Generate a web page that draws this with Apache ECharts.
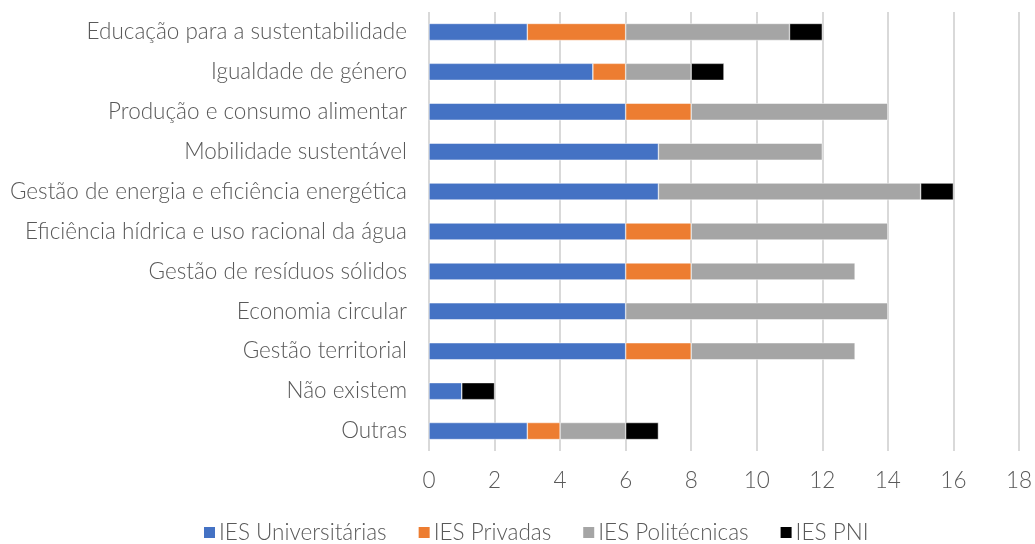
<!DOCTYPE html>
<html>
<head>
<meta charset="utf-8">
<script src="https://cdn.jsdelivr.net/npm/echarts@6/dist/echarts.min.js"></script>
<style>
  html, body { margin: 0; padding: 0; background: #fff; }
  #chart { width: 1035px; height: 544px; }
</style>
</head>
<body>
<div id="chart"></div>
<script>
// Thematic areas, listed top to bottom
const categories = [
  'Educação para a sustentabilidade',
  'Igualdade de género',
  'Produção e consumo alimentar',
  'Mobilidade sustentável',
  'Gestão de energia e eficiência energética',
  'Eficiência hídrica e uso racional da água',
  'Gestão de resíduos sólidos',
  'Economia circular',
  'Gestão territorial',
  'Não existem',
  'Outras'
];

// Number of institutions per type, same order as categories
const universitarias = [3, 5, 6, 7, 7, 6, 6, 6, 6, 1, 3];
const privadas       = [3, 1, 2, 0, 0, 2, 2, 0, 2, 0, 1];
const politecnicas   = [5, 2, 6, 5, 8, 6, 5, 8, 5, 0, 2];
const pni            = [1, 1, 0, 0, 1, 0, 0, 0, 0, 1, 1];

const seriesNames = ['IES Universitárias', 'IES Privadas', 'IES Politécnicas', 'IES PNI'];
const seriesData = [universitarias, privadas, politecnicas, pni];
const colors = ['#4472c4', '#ed7d31', '#a5a5a5', '#000000'];

const FONT = 'Lato, "Open Sans", sans-serif';
const TEXT = '#595959';
const FS = 22.5;

const chart = echarts.init(document.getElementById('chart'), null, { renderer: 'canvas' });

chart.setOption({
  animation: false,
  color: colors,
  grid: { left: 429, right: 12, top: 12, bottom: 93, containLabel: false },
  legend: {
    top: 521,
    left: 202,
    itemWidth: 13,
    itemHeight: 13,
    itemGap: 30,
    icon: 'rect',
    padding: 0,
    textStyle: { fontFamily: FONT, fontWeight: 300, fontSize: FS, color: TEXT, padding: [0, 0, 0, -2] },
    data: seriesNames
  },
  xAxis: {
    type: 'value',
    min: 0,
    max: 18,
    interval: 2,
    axisLine: { show: false },
    axisTick: { show: false },
    splitLine: { show: true, lineStyle: { color: '#d9d9d9', width: 2 } },
    axisLabel: { fontFamily: FONT, fontWeight: 300, fontSize: FS, color: TEXT, margin: 18 }
  },
  yAxis: {
    type: 'category',
    inverse: true,
    data: categories,
    axisLine: { show: false },
    axisTick: { show: false },
    axisLabel: { fontFamily: FONT, fontWeight: 300, fontSize: FS, color: TEXT, margin: 22 }
  },
  series: seriesNames.map((name, i) => ({
    name,
    type: 'bar',
    stack: 'total',
    barWidth: 17,
    data: seriesData[i].map(v => (v === 0 ? null : v)),
    itemStyle: { color: colors[i], borderColor: '#ffffff', borderWidth: 0.5 }
  }))
});
</script>
</body>
</html>
